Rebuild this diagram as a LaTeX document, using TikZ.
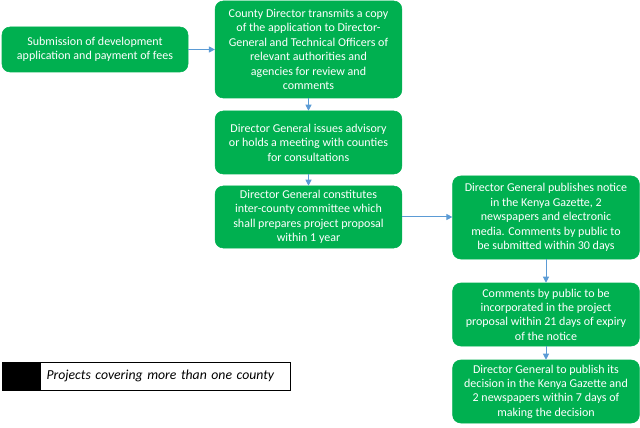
\documentclass[tikz,border=0pt]{standalone}
\usepackage{fontspec}
\setmainfont{Carlito}
\usetikzlibrary{positioning, arrows.meta}
\definecolor{stepGreen}{HTML}{00B050}
\definecolor{linkBlue}{HTML}{5B9BD5}

\begin{document}
\begin{tikzpicture}[
  x=0.75pt, y=-0.75pt,
  every node/.style={font=\fontsize{9}{10.8}\selectfont},
  stage/.style={rectangle, draw=stepGreen, fill=stepGreen, rounded corners=6pt,
               minimum width=140pt, text=white, align=center, inner sep=0pt},
  arrow/.style={-{Triangle[length=4.5pt, width=4.5pt]}, line width=0.75pt, color=linkBlue},
]
\useasboundingbox (0,0) rectangle (640,428);

% Left column
\node[stage, minimum width=139.5pt, minimum height=33.75pt] (sub) at (95,49.5)
      {Submission of development\\application and payment of fees};
\node[stage, minimum height=72.75pt] (transmit) at (308.5,49.5)
      {County Director transmits a copy\\of the application to Director-\\General and Technical Officers of\\relevant authorities and\\agencies for review and\\comments};
\node[stage, minimum height=47.25pt] (advisory) at (308.5,142.5)
      {Director General issues advisory\\or holds a meeting with counties\\for consultations};
\node[stage, minimum height=46.5pt] (committee) at (308.5,217)
      {Director General constitutes\\inter-county committee which\\shall prepares project proposal\\within 1 year};

% Right column
\node[stage, minimum height=62.25pt] (notice) at (546,217.5)
      {Director General publishes notice\\in the Kenya Gazette, 2\\newspapers and electronic\\media. Comments by public to\\be submitted within 30 days};
\node[stage, minimum height=47.25pt] (comments) at (546,314.5)
      {Comments by public to be\\incorporated in the project\\proposal within 21 days of expiry\\of the notice};
\node[stage, minimum height=47.25pt] (decision) at (546,391.5)
      {Director General to publish its\\decision in the Kenya Gazette and\\2 newspapers within 7 days of\\making the decision};

% Arrows
\draw[arrow] (sub) -- (transmit);
\draw[arrow] (transmit) -- (advisory);
\draw[arrow] (advisory) -- (committee);
\draw[arrow] (committee.east) -- (notice.west |- committee.east);
\draw[arrow] (notice) -- (comments);
\draw[arrow] (comments) -- (decision);

% Key
\node[draw, fill=black, minimum width=28.5pt, minimum height=21pt, inner sep=0pt] (keyfill) at (21,376) {};
\node[draw, fill=white, anchor=west, minimum height=21pt, text width=178.5pt,
      inner xsep=4.5pt, inner ysep=0pt, align=left, font=\fontsize{10.3}{12}\selectfont\itshape]
      (keytext) at (keyfill.east) {Projects covering more than one county};

\end{tikzpicture}
\end{document}
